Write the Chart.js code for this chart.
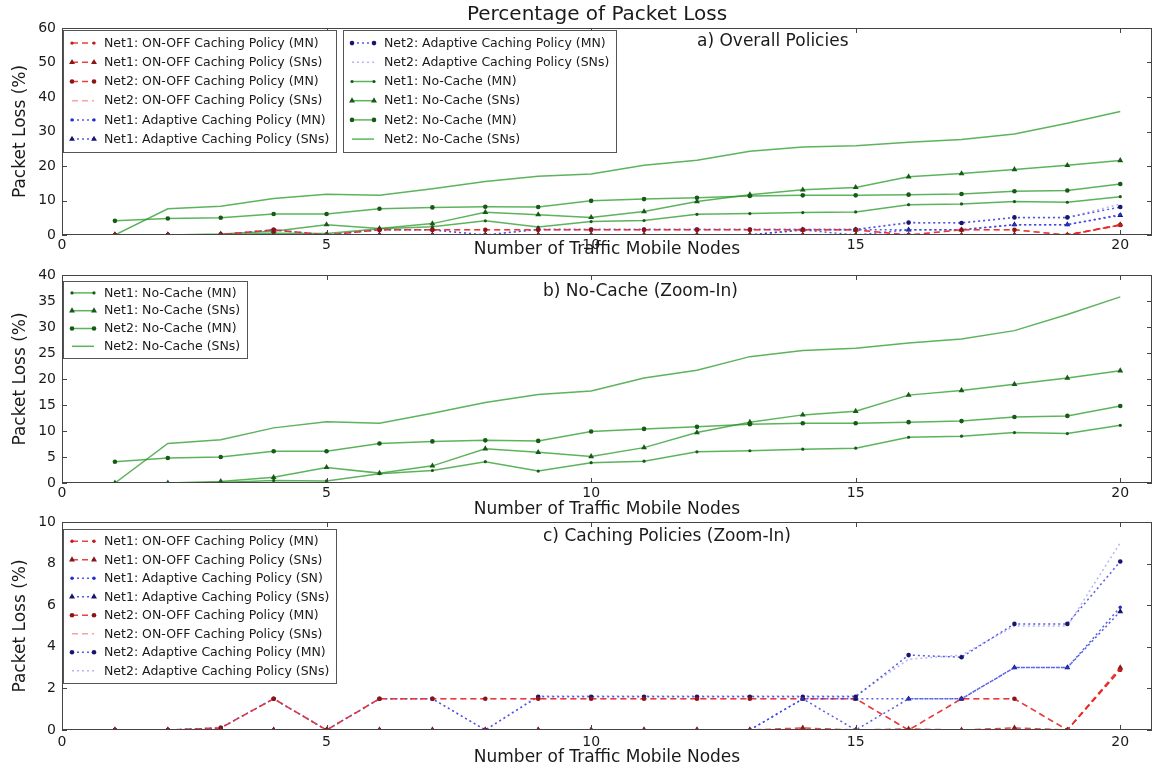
<!DOCTYPE html>
<html>
<head>
<meta charset="utf-8">
<title>Percentage of Packet Loss</title>
<script src="https://cdn.jsdelivr.net/npm/chart.js@4.4.1/dist/chart.umd.min.js"></script>
<style>
  html, body { margin: 0; padding: 0; background: #ffffff; }
  #wrap { position: relative; width: 1164px; height: 771px; overflow: hidden; }
  #wrap canvas { position: absolute; left: 0; top: 0; }
</style>
</head>
<body>
<div id="wrap">
  <canvas id="chartA" width="1164" height="771"></canvas>
  <canvas id="chartB" width="1164" height="771"></canvas>
  <canvas id="chartC" width="1164" height="771"></canvas>
</div>
<script>
// ---- data -------------------------------------------------------------
const nodes = [1, 2, 3, 4, 5, 6, 7, 8, 9, 10, 11, 12, 13, 14, 15, 16, 17, 18, 19, 20];

const xTicks  = [0, 5, 10, 15, 20];
const yTicksA = [0, 10, 20, 30, 40, 50, 60];
const yTicksB = [0, 5, 10, 15, 20, 25, 30, 35, 40];
const yTicksC = [0, 2, 4, 6, 8, 10];

// No-cache
const net1NoCacheMN  = [0, 0, 0.1, 0.5, 0.4, 1.8, 2.4, 4.1, 2.3, 3.9, 4.2, 6.0, 6.2, 6.5, 6.7, 8.8, 9.0, 9.7, 9.5, 11.1];
const net1NoCacheSNs = [0, 0, 0.3, 1.1, 3.0, 1.9, 3.3, 6.6, 5.9, 5.1, 6.8, 9.7, 11.7, 13.1, 13.8, 16.9, 17.8, 19.0, 20.2, 21.6];
const net2NoCacheMN  = [4.1, 4.8, 5.0, 6.1, 6.1, 7.6, 8.0, 8.2, 8.1, 9.9, 10.4, 10.8, 11.3, 11.5, 11.5, 11.7, 11.9, 12.7, 12.9, 14.8];
const net2NoCacheSNs = [0, 7.6, 8.3, 10.6, 11.8, 11.5, 13.4, 15.5, 17.0, 17.7, 20.2, 21.7, 24.3, 25.5, 25.9, 26.9, 27.7, 29.3, 32.4, 35.8];

// ON-OFF caching policy
const net1OnOffMN  = [0, 0, 0, 0, 0, 0, 0, 0, 0, 0, 0, 0, 0, 0, 0, 0, 0, 0, 0, 2.9];
const net1OnOffSNs = [0, 0, 0, 0, 0, 0, 0, 0, 0, 0, 0, 0, 0, 0.1, 0, 0.05, 0, 0.1, 0, 3.0];
const net2OnOffMN  = [0, 0, 0.1, 1.5, 0, 1.5, 1.5, 1.5, 1.5, 1.5, 1.5, 1.5, 1.5, 1.5, 1.5, 0, 1.5, 1.5, 0, 2.9];
const net2OnOffSNs = [0, 0, 0.1, 1.5, 0, 1.5, 1.5, 1.5, 1.5, 1.5, 1.5, 1.5, 1.5, 1.5, 1.5, 0, 1.5, 1.5, 0, 2.9];

// Adaptive caching policy
const net1AdaptMN  = [0, 0, 0, 0, 0, 0, 0, 0, 0, 0, 0, 0, 0, 1.5, 0, 1.5, 1.5, 3.0, 3.0, 5.9];
const net1AdaptSNs = [0, 0, 0, 0, 0, 0, 0, 0, 0, 0, 0, 0, 0, 1.5, 1.5, 1.5, 1.5, 3.0, 3.0, 5.7];
const net2AdaptMN  = [0, 0, 0.1, 1.5, 0, 1.5, 1.5, 0, 1.6, 1.6, 1.6, 1.6, 1.6, 1.6, 1.6, 3.6, 3.5, 5.1, 5.1, 8.1];
const net2AdaptSNs = [0, 0, 0.1, 1.5, 0, 1.5, 1.5, 0, 1.65, 1.65, 1.65, 1.65, 1.65, 1.65, 1.65, 3.4, 3.6, 5.0, 5.0, 9.0];

// ---- styles -----------------------------------------------------------
const FONT = '"DejaVu Sans", "Liberation Sans", sans-serif';
const INK = '#1a1a1a';

const GREEN = 'rgba(30,150,30,0.72)';
const GREEN_DARK = '#175a17';
const RED = 'rgba(232,40,40,0.88)';
const RED_DARK = '#8c1414';
const PINK = 'rgba(245,110,120,0.65)';
const BLUE = 'rgba(55,65,225,0.85)';
const BLUE_FAINT = 'rgba(140,130,230,0.6)';
const NAVY = '#161670';

const DASH = [6, 4];
const DOT = [2, 3];

function series(label, values, color, dash, marker, radius, markerColor, width) {
  return {
    label: label,
    data: nodes.map((n, i) => ({ x: n, y: values[i] })),
    borderColor: color,
    borderWidth: width || 1.5,
    borderDash: dash,
    pointStyle: marker || 'circle',
    pointRadius: radius || 0,
    pointBorderWidth: 0,
    pointBackgroundColor: markerColor || color,
    pointBorderColor: markerColor || color,
    fill: false,
    tension: 0
  };
}

const S = {
  n1OnOffMN:  () => series('Net1: ON-OFF Caching Policy (MN)',  net1OnOffMN,  RED,  DASH, 'circle',   1.7, '#c41c1c'),
  n1OnOffSNs: () => series('Net1: ON-OFF Caching Policy (SNs)', net1OnOffSNs, RED,  DASH, 'triangle', 3.4, RED_DARK),
  n2OnOffMN:  () => series('Net2: ON-OFF Caching Policy (MN)',  net2OnOffMN,  RED,  DASH, 'circle',   2.3, RED_DARK),
  n2OnOffSNs: () => series('Net2: ON-OFF Caching Policy (SNs)', net2OnOffSNs, PINK, DASH, 'circle',   0),
  n1AdaptMN:  (lbl) => series(lbl || 'Net1: Adaptive Caching Policy (MN)', net1AdaptMN, BLUE, DOT, 'circle', 1.7, '#2230c8'),
  n1AdaptSNs: () => series('Net1: Adaptive Caching Policy (SNs)', net1AdaptSNs, BLUE, DOT, 'triangle', 3.4, NAVY),
  n2AdaptMN:  () => series('Net2: Adaptive Caching Policy (MN)',  net2AdaptMN,  BLUE, DOT, 'circle',   2.3, NAVY),
  n2AdaptSNs: () => series('Net2: Adaptive Caching Policy (SNs)', net2AdaptSNs, BLUE_FAINT, DOT, 'circle', 0),
  n1NoMN:  () => series('Net1: No-Cache (MN)',  net1NoCacheMN,  GREEN, [], 'circle',   1.6, GREEN_DARK),
  n1NoSNs: () => series('Net1: No-Cache (SNs)', net1NoCacheSNs, GREEN, [], 'triangle', 3.4, GREEN_DARK),
  n2NoMN:  () => series('Net2: No-Cache (MN)',  net2NoCacheMN,  GREEN, [], 'circle',   2.3, GREEN_DARK),
  n2NoSNs: () => series('Net2: No-Cache (SNs)', net2NoCacheSNs, GREEN, [], 'circle',   0)
};

// ---- plugins ----------------------------------------------------------
function drawMarker(ctx, style, r, x, y, color) {
  if (!r) return;
  ctx.save();
  ctx.setLineDash([]);
  ctx.fillStyle = color;
  ctx.beginPath();
  if (style === 'triangle') {
    let a = 0;
    ctx.moveTo(x + Math.sin(a) * r, y - Math.cos(a) * r);
    a += 2 * Math.PI / 3;
    ctx.lineTo(x + Math.sin(a) * r, y - Math.cos(a) * r);
    a += 2 * Math.PI / 3;
    ctx.lineTo(x + Math.sin(a) * r, y - Math.cos(a) * r);
    ctx.closePath();
  } else {
    ctx.arc(x, y, r, 0, Math.PI * 2);
  }
  ctx.fill();
  ctx.restore();
}

// axes frame with inward tick marks on all four sides
const framePlugin = {
  id: 'frame',
  afterDatasetsDraw(chart) {
    const { ctx, chartArea: a, scales } = chart;
    ctx.save();
    ctx.strokeStyle = '#444';
    ctx.lineWidth = 1;
    ctx.setLineDash([]);
    ctx.strokeRect(Math.round(a.left) + 0.5, Math.round(a.top) + 0.5,
                   Math.round(a.width) - 1, Math.round(a.height) - 1);
    const len = 5;
    ctx.beginPath();
    scales.x.ticks.forEach(t => {
      const px = Math.round(scales.x.getPixelForValue(t.value)) + 0.5;
      ctx.moveTo(px, a.bottom); ctx.lineTo(px, a.bottom - len);
      ctx.moveTo(px, a.top);    ctx.lineTo(px, a.top + len);
    });
    scales.y.ticks.forEach(t => {
      const py = Math.round(scales.y.getPixelForValue(t.value)) + 0.5;
      ctx.moveTo(a.left, py);  ctx.lineTo(a.left + len, py);
      ctx.moveTo(a.right, py); ctx.lineTo(a.right - len, py);
    });
    ctx.stroke();
    ctx.restore();
  }
};

// boxed legends placed inside the plot area
const boxLegendPlugin = {
  id: 'boxLegend',
  afterDatasetsDraw(chart, args, opts) {
    if (!opts || !opts.boxes) return;
    const ctx = chart.ctx;
    ctx.save();
    ctx.font = opts.size + 'px ' + FONT;
    let nextX = null;
    opts.boxes.forEach(box => {
      const items = box.items.map(i => chart.data.datasets[i]);
      const tw = Math.max(...items.map(d => ctx.measureText(d.label).width));
      const x = box.x != null ? box.x : nextX;
      const w = Math.round(tw + opts.textOffset + 7);
      const h = Math.round(items.length * opts.rowH + 2 * opts.padY);
      ctx.setLineDash([]);
      ctx.fillStyle = '#ffffff';
      ctx.fillRect(x, box.y, w, h);
      ctx.strokeStyle = '#555';
      ctx.lineWidth = 1;
      ctx.strokeRect(x + 0.5, box.y + 0.5, w, h);
      items.forEach((d, k) => {
        const cy = box.y + opts.padY + opts.rowH * (k + 0.5);
        const x0 = x + 9, x1 = x0 + 22;
        ctx.strokeStyle = d.borderColor;
        ctx.lineWidth = d.borderWidth;
        ctx.setLineDash(d.borderDash || []);
        ctx.beginPath();
        ctx.moveTo(x0, cy); ctx.lineTo(x1, cy);
        ctx.stroke();
        drawMarker(ctx, d.pointStyle, d.pointRadius, x0, cy, d.pointBackgroundColor);
        drawMarker(ctx, d.pointStyle, d.pointRadius, x1, cy, d.pointBackgroundColor);
        ctx.fillStyle = INK;
        ctx.textBaseline = 'middle';
        ctx.textAlign = 'left';
        ctx.fillText(d.label, x + opts.textOffset, cy + 0.5);
      });
      nextX = x + w + opts.gap;
    });
    ctx.restore();
  }
};

// free-standing text (figure title, panel captions)
const textPlugin = {
  id: 'texts',
  afterDraw(chart, args, opts) {
    if (!opts || !opts.items) return;
    const ctx = chart.ctx;
    ctx.save();
    opts.items.forEach(t => {
      ctx.font = t.size + 'px ' + FONT;
      ctx.fillStyle = INK;
      ctx.textAlign = t.align || 'left';
      ctx.textBaseline = 'middle';
      ctx.fillText(t.text, t.x, t.y);
    });
    ctx.restore();
  }
};

// ---- chart factory ----------------------------------------------------
const PLOT_LEFT = 62, PLOT_RIGHT = 1152, X_MAX = 20.6;

function makePanel(id, p) {
  return new Chart(document.getElementById(id), {
    type: 'line',
    data: { datasets: p.datasets },
    options: {
      responsive: false,
      animation: false,
      devicePixelRatio: 1,
      events: [],
      layout: { padding: { left: 0, right: 1164 - PLOT_RIGHT, top: p.top, bottom: 771 - p.bottom - p.xh } },
      plugins: {
        legend: { display: false },
        tooltip: { enabled: false },
        boxLegend: p.legend,
        texts: { items: p.texts || [] }
      },
      scales: {
        x: {
          type: 'linear', min: 0, max: X_MAX,
          afterBuildTicks: s => { s.ticks = xTicks.map(v => ({ value: v })); },
          afterFit: s => { s.height = p.xh; },
          grid: { display: false, drawTicks: false },
          border: { display: false },
          ticks: { padding: p.tickPad, maxRotation: 0, color: INK, font: { family: FONT, size: 14 } },
          title: { display: true, text: 'Number of Traffic Mobile Nodes', color: INK,
                   font: { family: FONT, size: 17 }, padding: { top: 0, bottom: 0 } }
        },
        y: {
          type: 'linear', min: 0, max: p.yTicks[p.yTicks.length - 1],
          afterBuildTicks: s => { s.ticks = p.yTicks.map(v => ({ value: v })); },
          afterFit: s => { s.width = PLOT_LEFT; },
          grid: { display: false, drawTicks: false },
          border: { display: false },
          ticks: { padding: 6, color: INK, font: { family: FONT, size: 14 } },
          title: { display: true, text: 'Packet Loss (%)', color: INK,
                   font: { family: FONT, size: 17 }, padding: { top: 10, bottom: 0 } }
        }
      }
    },
    plugins: [framePlugin, boxLegendPlugin, textPlugin]
  });
}

// a) all twelve series
makePanel('chartA', {
  top: 28, bottom: 235, xh: 25, tickPad: 2, yTicks: yTicksA,
  datasets: [S.n1OnOffMN(), S.n1OnOffSNs(), S.n2OnOffMN(), S.n2OnOffSNs(), S.n1AdaptMN(), S.n1AdaptSNs(),
             S.n2AdaptMN(), S.n2AdaptSNs(), S.n1NoMN(), S.n1NoSNs(), S.n2NoMN(), S.n2NoSNs()],
  legend: { size: 12.5, rowH: 19.2, padY: 3.5, textOffset: 41, gap: 7,
            boxes: [{ x: 63, y: 30, items: [0, 1, 2, 3, 4, 5] }, { y: 30, items: [6, 7, 8, 9, 10, 11] }] },
  texts: [
    { text: 'Percentage of Packet Loss', x: 597, y: 15, size: 20, align: 'center' },
    { text: 'a) Overall Policies', x: 697, y: 42, size: 17 }
  ]
});

// b) no-cache only
makePanel('chartB', {
  top: 275, bottom: 483, xh: 37, tickPad: 2, yTicks: yTicksB,
  datasets: [S.n1NoMN(), S.n1NoSNs(), S.n2NoMN(), S.n2NoSNs()],
  legend: { size: 12.5, rowH: 17.8, padY: 3, textOffset: 41, gap: 7,
            boxes: [{ x: 63, y: 281, items: [0, 1, 2, 3] }] },
  texts: [{ text: 'b) No-Cache (Zoom-In)', x: 543, y: 292, size: 17 }]
});

// c) caching policies only
makePanel('chartC', {
  top: 522, bottom: 730, xh: 38, tickPad: 4, yTicks: yTicksC,
  datasets: [S.n1OnOffMN(), S.n1OnOffSNs(), S.n1AdaptMN('Net1: Adaptive Caching Policy (SN)'), S.n1AdaptSNs(),
             S.n2OnOffMN(), S.n2OnOffSNs(), S.n2AdaptMN(), S.n2AdaptSNs()],
  legend: { size: 12.5, rowH: 18.5, padY: 3, textOffset: 41, gap: 7,
            boxes: [{ x: 63, y: 529, items: [0, 1, 2, 3, 4, 5, 6, 7] }] },
  texts: [{ text: 'c) Caching Policies (Zoom-In)', x: 543, y: 537, size: 17 }]
});
</script>
</body>
</html>
